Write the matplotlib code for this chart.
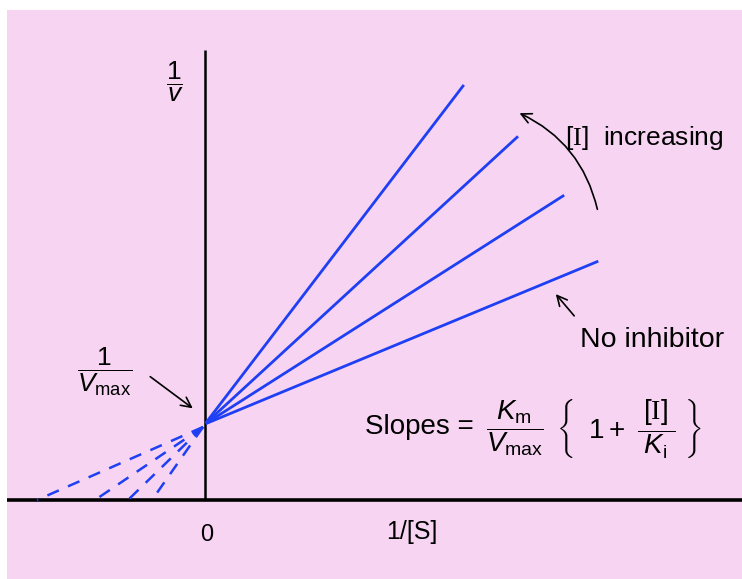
import matplotlib
matplotlib.use('Agg')
import matplotlib.pyplot as plt
from matplotlib.patches import Rectangle, FancyArrowPatch
import numpy as np

plt.rcParams['font.family'] = ['Liberation Sans', 'DejaVu Sans']
plt.rcParams['mathtext.fontset'] = 'custom'
plt.rcParams['mathtext.rm'] = 'Liberation Sans'
plt.rcParams['mathtext.it'] = 'Liberation Sans:italic'
plt.rcParams['mathtext.sf'] = 'Liberation Serif'

# Lineweaver-Burk, competitive inhibition
inv_vmax = 0.76                         # common y-intercept 1/Vmax
slopes = [0.414, 0.637, 0.919, 1.31]    # no inhibitor -> highest [I]
x_end = [3.92, 3.58, 3.12, 2.58]        # where each solid line stops
x_int = [-1.68, -1.10, -0.77, -0.53]    # where dashed extrapolations meet the x axis

blue = '#1f3ff5'
pink = '#f7d5f2'

fig = plt.figure(figsize=(7.42, 5.79), dpi=100)
fig.patch.set_facecolor('white')
ax = fig.add_axes([0, 0, 1, 1])
ax.set_xlim(-2.05, 5.37)
ax.set_ylim(-0.79, 5.00)
ax.axis('off')

# pink paper
fig.patches.append(Rectangle((7 / 742, 0), 1, 1 - 10 / 579, transform=fig.transFigure,
                             facecolor=pink, edgecolor='none', zorder=-10))

# axes lines
ax.plot([-1.98, 5.37], [0, 0], color='black', lw=2.6, solid_capstyle='butt')
ax.plot([0, 0], [0, 4.5], color='black', lw=1.8, solid_capstyle='butt')

# solid lines
for m, xe in zip(slopes, x_end):
    xs = np.array([0.02, xe])
    ax.plot(xs, inv_vmax + m * xs, color=blue, lw=2.0)

# dashed extrapolations
for xi in x_int:
    ax.plot([-0.02, xi], [inv_vmax - 0.03, 0], color=blue, lw=1.8,
            dashes=(5, 4))

# labels
ax.text(-0.30, 4.18, r'$\dfrac{1}{v}$', fontsize=19, ha='center', va='center')
ax.text(-1.00, 1.28, r'$\dfrac{1}{V_{\mathrm{max}}}$', fontsize=19, ha='center', va='center')
ax.text(0.02, -0.35, '0', fontsize=17, ha='center', va='center')
ax.text(2.07, -0.32, '1/[S]', fontsize=18, ha='center', va='center')
ax.text(3.60, 3.62, r'$[\mathsf{I}]$  increasing', fontsize=19, ha='left', va='center')
ax.text(3.75, 1.60, 'No inhibitor', fontsize=20.5, ha='left', va='center')

# slope formula, built in three pieces
ax.text(1.60, 0.73, 'Slopes =', fontsize=20, ha='left', va='center')
ax.text(3.10, 0.72, r'$\dfrac{K_{\mathrm{m}}}{V_{\mathrm{max}}}$',
        fontsize=20, ha='center', va='center')
ax.text(4.24, 0.71,
        r'$\left\{\ \;1+\ \dfrac{\,[\mathsf{I}]\,}{\;K_{\mathrm{i}}\;}\ \right\}$',
        fontsize=20, ha='center', va='center')

# arrows
arrow_kw = dict(arrowstyle='->,head_length=0.6,head_width=0.3', mutation_scale=12,
                color='black', lw=1.2)
ax.add_patch(FancyArrowPatch((-0.57, 1.25), (-0.10, 0.90), **arrow_kw))
ax.add_patch(FancyArrowPatch((3.71, 1.82), (3.49, 2.08), **arrow_kw))
ax.add_patch(FancyArrowPatch((3.93, 2.88), (3.12, 3.88),
                             connectionstyle='arc3,rad=0.25', **arrow_kw))

fig.savefig('out.png', dpi=100)
